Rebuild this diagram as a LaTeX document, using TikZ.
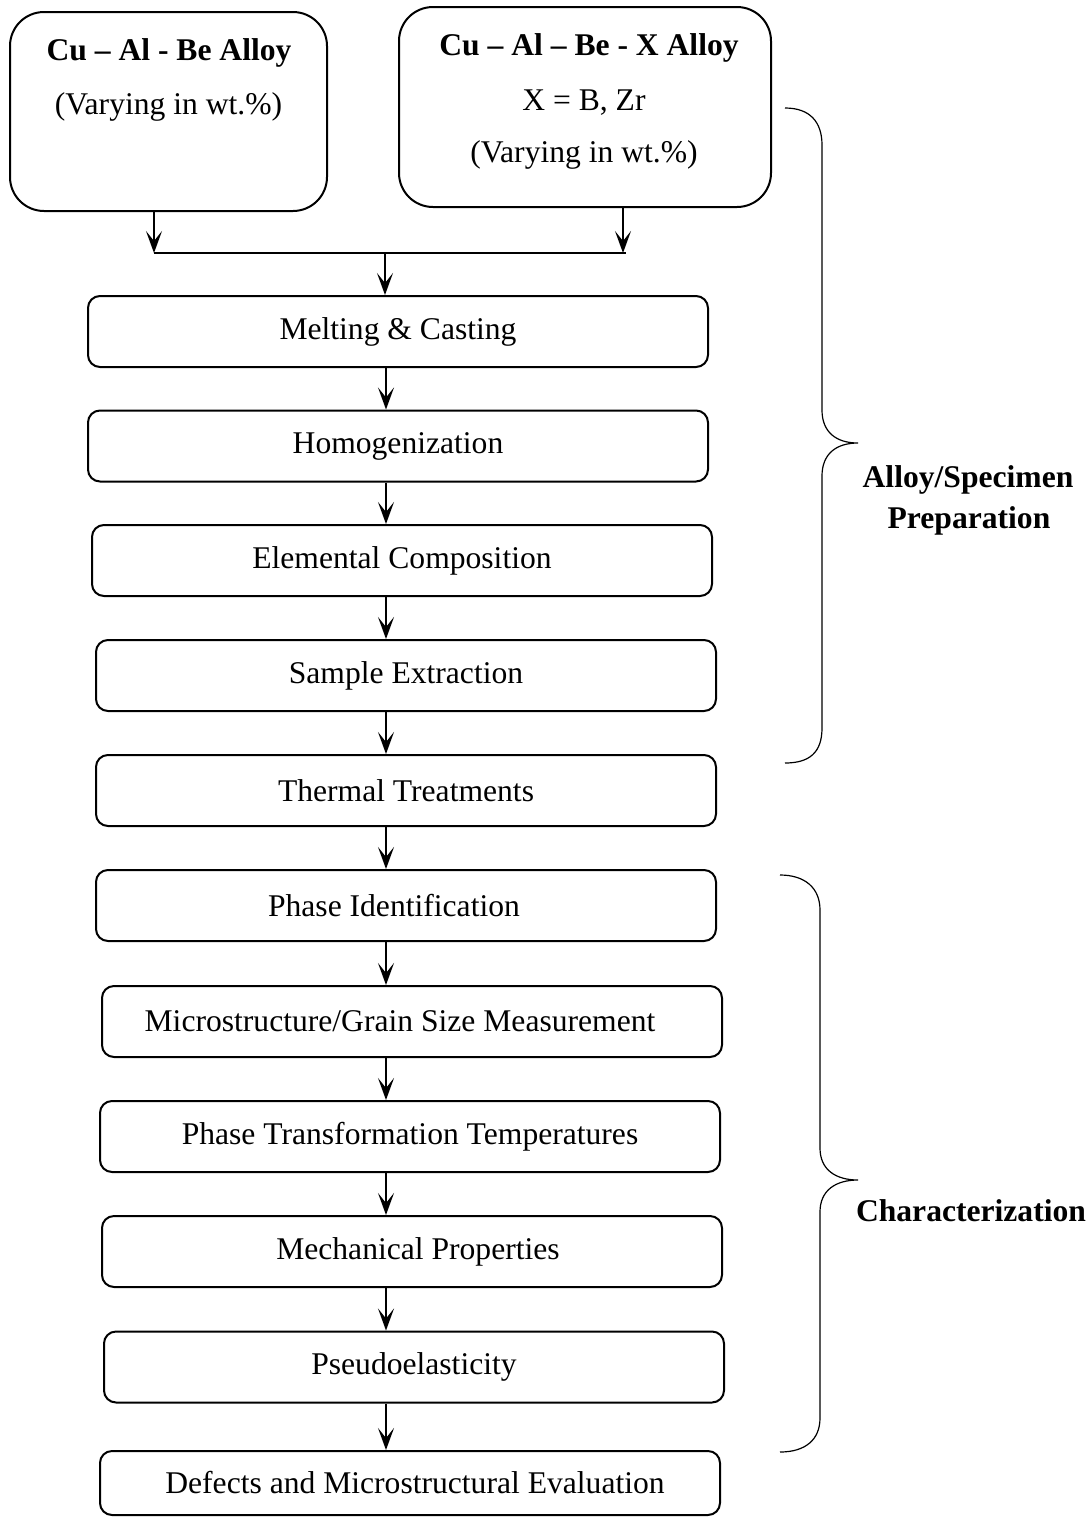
\documentclass[tikz,border=0pt]{standalone}
\usepackage{fontspec}
\setmainfont{Liberation Serif}
\usetikzlibrary{arrows.meta}
\begin{document}
\begin{tikzpicture}[x=0.5pt,y=-0.5pt,
  txt/.style={font=\fontsize{15.8}{18}\selectfont, inner sep=0pt},
  btxt/.style={font=\fontsize{15.8}{18}\selectfont\bfseries, inner sep=0pt},
  bigbox/.style={draw, line width=1pt, rounded corners=17pt, inner sep=0pt},
  stepbox/.style={draw, line width=1pt, rounded corners=6pt, inner sep=0pt,
    minimum width=310pt, minimum height=35.5pt, font=\fontsize{15.8}{18}\selectfont},
  arr/.style={line width=0.9pt, -{Stealth[length=11pt, width=8pt, inset=5pt]}},
  brace/.style={line width=0.6pt}
]
\useasboundingbox (0,0) rectangle (1091,1517);
% top boxes
\node[bigbox, minimum width=158.5pt, minimum height=99.5pt] (A) at (168.5,111.5) {};
\node[btxt] (a1) at (169,53) {Cu -- Al - Be Alloy};
\node[txt] (a2) at (168.5,107) {(Varying in wt.\%)};
\node[bigbox, minimum width=186pt, minimum height=100pt] (B) at (585,107) {};
\node[btxt] (b1) at (589,48) {Cu -- Al -- Be - X Alloy};
\node[txt] (b2) at (584,103) {X = B, Zr};
\node[txt] (b3) at (584,155) {(Varying in wt.\%)};
% steps
\node[stepbox] (s1) at (398,331.5) {Melting \& Casting};
\node[stepbox] (s2) at (398,446) {Homogenization};
\node[stepbox] (s3) at (402,560.5) {Elemental Composition};
\node[stepbox] (s4) at (406,675.5) {Sample Extraction};
\node[stepbox] (s5) at (406,790.5) {Thermal Treatments};
\node[stepbox] (s6) at (406,905.5) {\hspace*{-12pt}Phase Identification};
\node[stepbox] (s7) at (412,1021.5) {\hspace*{-12pt}Microstructure/Grain Size Measurement};
\node[stepbox] (s8) at (410,1136.5) {Phase Transformation Temperatures};
\node[stepbox] (s9) at (412,1251.5) {\hspace*{6pt}Mechanical Properties};
\node[stepbox] (s10) at (414,1367) {Pseudoelasticity};
\node[stepbox, minimum height=32pt] (s11) at (410,1483) {\hspace*{5pt}Defects and Microstructural Evaluation};
% junction
\coordinate (jl) at (154,253);
\coordinate (jr) at (623,253);
\coordinate (jm) at (385,253);
\coordinate (jre) at (626,253);
\coordinate (ax) at (386,0);
\draw[arr] (A.south -| jl) -- (jl);
\draw[arr] (B.south -| jr) -- (jr);
\draw[line width=0.9pt] (jl) -- (jre);
\draw[arr] (jm) -- (s1.north -| jm);
\foreach \i/\j in {s1/s2,s2/s3,s3/s4,s4/s5,s5/s6,s6/s7,s7/s8,s8/s9,s9/s10,s10/s11}{
  \draw[arr] (\i.south -| ax) -- (\j.north -| ax);
}
% braces
\draw[brace] (785,108) .. controls (810,108) and (822,122) .. (822,145) -- (822,410)
  .. controls (822,432) and (836,443) .. (858,443)
  .. controls (836,443) and (822,454) .. (822,476) -- (822,728)
  .. controls (822,752) and (810,763) .. (785,763);
\node[btxt] (p1) at (968,480) {Alloy/Specimen};
\node[btxt] (p2) at (969,521) {Preparation};
\draw[brace] (780,875) .. controls (805,875) and (820,888) .. (820,910) -- (820,1148)
  .. controls (820,1170) and (836,1180) .. (858,1180)
  .. controls (836,1180) and (820,1190) .. (820,1212) -- (820,1418)
  .. controls (820,1440) and (805,1452) .. (780,1452);
\node[btxt] (c1) at (971,1211) {Characterization};
\end{tikzpicture}
\end{document}
